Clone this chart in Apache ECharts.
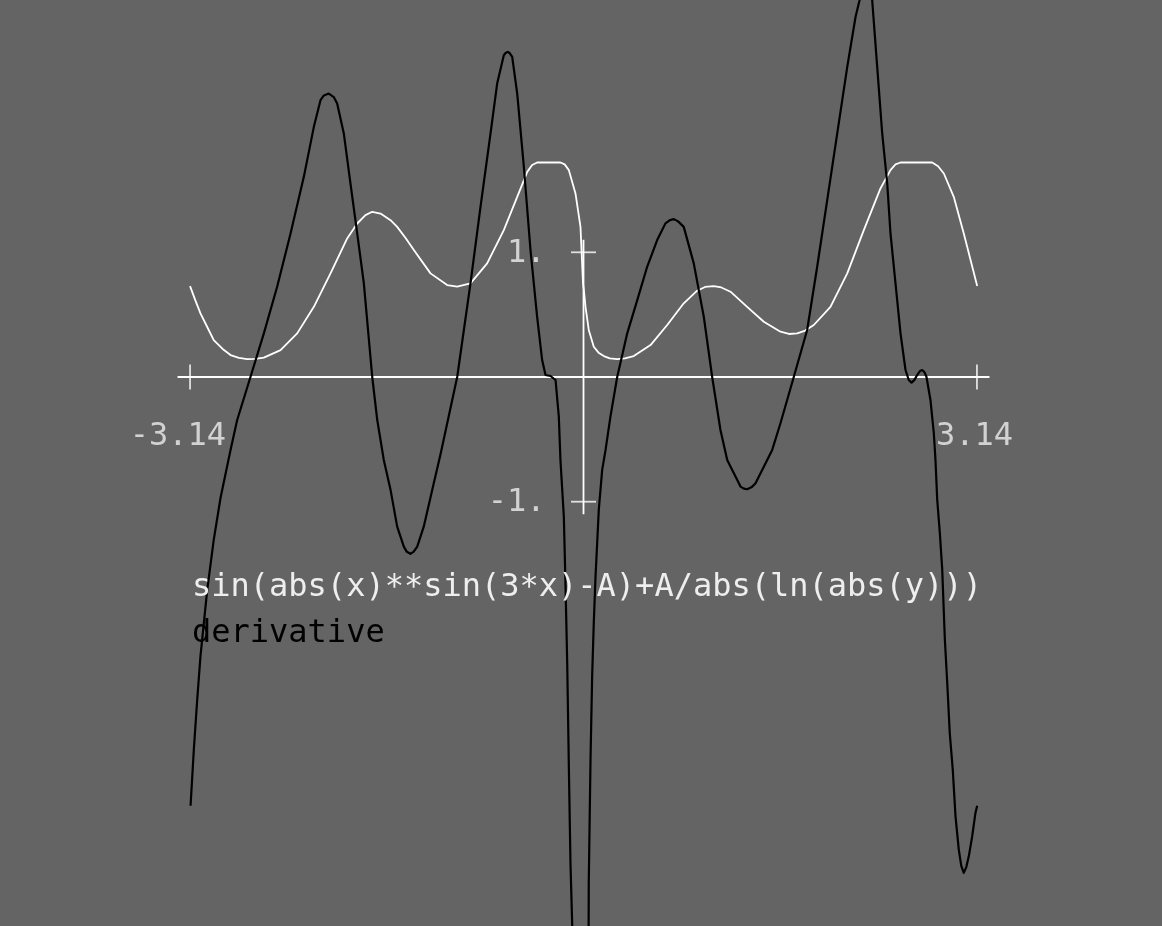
<!DOCTYPE html>
<html>
<head>
<meta charset="utf-8">
<script src="https://cdn.jsdelivr.net/npm/echarts@6/dist/echarts.min.js"></script>
<style>
html, body { margin: 0; padding: 0; background: #646464; }
#chart { width: 1162px; height: 926px; }
</style>
</head>
<body>
<div id="chart"></div>
<script>
// ---- data ----
const functionName = 'sin(abs(x)**sin(3*x)-A)+A/abs(ln(abs(y)))';
const derivativeName = 'derivative';

const fX = [-3.14, -3.10, -3.057, -3.00, -2.951, -2.88, -2.817, -2.75, -2.684, -2.62, -2.551, -2.418, -2.285, -2.152, -2.019,
  -1.886, -1.806, -1.74, -1.686, -1.620, -1.540, -1.487, -1.42, -1.354, -1.221, -1.088, -1.008,
  -0.902, -0.769, -0.636, -0.529, -0.449, -0.41, -0.370, -0.184, -0.15, -0.117, -0.064, -0.024,
  -0.004, 0.003, 0.016, 0.042, 0.082, 0.12, 0.162, 0.21, 0.269, 0.33, 0.401, 0.535, 0.668,
  0.800, 0.907, 0.97, 1.040, 1.10, 1.173, 1.306, 1.439, 1.572, 1.64, 1.705, 1.77, 1.838, 1.971,
  2.105, 2.237, 2.370, 2.450, 2.49, 2.530, 2.783, 2.83, 2.876, 2.955, 3.035, 3.142];
const fY = [0.729, 0.62, 0.51, 0.395, 0.296, 0.225, 0.176, 0.153, 0.144, 0.146, 0.155, 0.216, 0.35, 0.563, 0.831,
  1.111, 1.231, 1.298, 1.325, 1.311, 1.258, 1.204, 1.115, 1.018, 0.831, 0.737, 0.724,
  0.751, 0.911, 1.178, 1.445, 1.645, 1.700, 1.720, 1.720, 1.705, 1.659, 1.472, 1.204,
  0.75, 0.697, 0.563, 0.377, 0.243, 0.195, 0.168, 0.150, 0.144, 0.150, 0.168, 0.256, 0.417,
  0.591, 0.692, 0.722, 0.729, 0.718, 0.684, 0.563, 0.443, 0.363, 0.345, 0.350, 0.372, 0.417, 0.563,
  0.831, 1.178, 1.512, 1.659, 1.705, 1.720, 1.720, 1.690, 1.632, 1.445, 1.151, 0.729];

const dX = [-3.136, -3.110, -3.083, -3.057, -3.030, -3.003, -2.951, -2.897, -2.817, -2.764,
  -2.658, -2.551, -2.445, -2.338, -2.232, -2.152, -2.099, -2.072, -2.033, -1.993, -1.966, -1.913,
  -1.860, -1.806, -1.753, -1.686, -1.646, -1.594, -1.540, -1.487, -1.434, -1.41, -1.381, -1.355,
  -1.327, -1.275, -1.195, -1.141, -1.008, -0.902, -0.822, -0.742, -0.689, -0.636, -0.620,
  -0.604, -0.588, -0.569, -0.529, -0.476, -0.423, -0.370, -0.330, -0.303, -0.263, -0.223,
  -0.197, -0.184, -0.157, -0.144, -0.130, -0.117, -0.104, -0.090, -0.060, 0.030,
  0.042, 0.056, 0.069, 0.082, 0.096, 0.109, 0.122, 0.149, 0.176, 0.215,
  0.269, 0.349, 0.429, 0.508, 0.588, 0.654, 0.690, 0.721, 0.755, 0.800, 0.880, 0.960,
  1.027, 1.093, 1.147, 1.200, 1.253, 1.280, 1.306, 1.340, 1.373, 1.439, 1.506, 1.572,
  1.678, 1.785, 1.865, 1.945, 2.025, 2.105, 2.171, 2.203, 2.255, 2.304,
  2.344, 2.384, 2.424, 2.450, 2.490, 2.530, 2.570, 2.596, 2.618, 2.640, 2.663,
  2.685, 2.703, 2.720, 2.737, 2.769, 2.796, 2.809, 2.823, 2.844, 2.863, 2.884, 2.903,
  2.923, 2.947, 2.969, 2.995, 3.015, 3.035, 3.055, 3.075, 3.102, 3.128, 3.142];
const dY = [-3.438, -2.989, -2.588, -2.241, -1.974, -1.707, -1.306, -0.970, -0.585, -0.345,
  0.0, 0.350, 0.724, 1.151, 1.605, 2.006, 2.220, 2.258, 2.273, 2.245, 2.193, 1.953,
  1.552, 1.151, 0.751, 0.0, -0.345, -0.665, -0.905, -1.2, -1.36, -1.402, -1.418, -1.400,
  -1.36, -1.2, -0.852, -0.62, 0.0, 0.751, 1.365, 1.953, 2.353, 2.580, 2.600,
  2.607, 2.596, 2.567, 2.273, 1.685, 1.018, 0.483, 0.136, 0.016, 0.008, -0.024,
  -0.318, -0.665, -1.119, -1.653, -2.294, -3.122, -3.897, -4.399, -8, -8,
  -4.057, -3.069, -2.401, -1.974, -1.600, -1.333, -1.066, -0.745, -0.585, -0.318,
  0.0, 0.350, 0.617, 0.884, 1.098, 1.232, 1.258, 1.266, 1.248, 1.204, 0.911, 0.483,
  0.0, -0.425, -0.665, -0.772, -0.879, -0.895, -0.900, -0.885, -0.852, -0.719, -0.585, -0.371,
  0.0, 0.377, 0.884, 1.418, 1.953, 2.487, 2.887, 3.021, 3.35, 3.021,
  2.487, 1.953, 1.552, 1.151, 0.751, 0.350, 0.056, -0.024, -0.045, -0.025, 0.016,
  0.048, 0.056, 0.040, 0.002, -0.184, -0.451, -0.665, -0.986, -1.252, -1.546, -2.107, -2.454,
  -2.855, -3.149, -3.523, -3.790, -3.920, -3.977, -3.930, -3.844, -3.684, -3.496, -3.438];

const xTicks = [-3.14, 3.14];
const xTickLabels = ['-3.14', '3.14'];
const yTicks = [1, -1];
const yTickLabels = ['1.', '-1.'];

// ---- layout (pixels) ----
const W = 1162, H = 926;
const ORIGIN_X = 583.5, ORIGIN_Y = 377;
const PX_X = 125.3, PX_Y = 124.7;
const TICK_HALF = 12.5;
const FONT = '"DejaVu Sans Mono", "Liberation Mono", monospace';

const tx = TICK_HALF / PX_X, ty = TICK_HALF / PX_Y;
const zip = (a, b) => a.map((v, i) => [v, b[i]]);

const chart = echarts.init(document.getElementById('chart'));
chart.setOption({
  backgroundColor: '#646464',
  animation: false,
  grid: { left: 0, top: 0, width: W, height: H, outerBoundsMode: 'none', containLabel: false },
  xAxis: { type: 'value', show: false, min: -ORIGIN_X / PX_X, max: (W - ORIGIN_X) / PX_X },
  yAxis: { type: 'value', show: false, min: -(H - ORIGIN_Y) / PX_Y, max: ORIGIN_Y / PX_Y },
  legend: {
    orient: 'vertical', left: 187, top: 565, padding: 0, itemGap: 0,
    itemWidth: 0, itemHeight: 0, icon: 'none', selectedMode: false,
    textStyle: { fontFamily: FONT, fontSize: 32, lineHeight: 46 },
    data: [
      { name: functionName, textStyle: { color: '#eeeeee' } },
      { name: derivativeName, textStyle: { color: '#000000' } }
    ]
  },
  series: [
    {
      name: 'x axis', type: 'line', z: 1, silent: true, showSymbol: false,
      data: [[xTicks[0] - tx, 0], [xTicks[xTicks.length - 1] + tx, 0]],
      lineStyle: { color: '#ffffff', width: 1.8 }
    },
    {
      name: 'y axis', type: 'line', z: 1, silent: true, showSymbol: false,
      data: [[0, Math.min(...yTicks) - ty], [0, Math.max(...yTicks) + ty]],
      lineStyle: { color: '#ffffff', width: 1.8 }
    },
    {
      name: 'x ticks', type: 'scatter', z: 1, silent: true,
      data: xTicks.map(v => [v, 0]),
      symbol: 'rect', symbolSize: [1.8, TICK_HALF * 2],
      itemStyle: { color: '#ffffff' },
      label: {
        show: true, position: 'inside', align: 'right', verticalAlign: 'middle',
        offset: [36, 60], color: '#eeeeee', fontFamily: FONT, fontSize: 32,
        formatter: p => xTickLabels[p.dataIndex]
      }
    },
    {
      name: 'y ticks', type: 'scatter', z: 1, silent: true,
      data: yTicks.map(v => [0, v]),
      symbol: 'rect', symbolSize: [TICK_HALF * 2, 1.8],
      itemStyle: { color: '#ffffff' },
      label: {
        show: true, position: 'inside', align: 'right', verticalAlign: 'middle',
        offset: [-38, 1], color: '#eeeeee', fontFamily: FONT, fontSize: 32,
        formatter: p => yTickLabels[p.dataIndex]
      }
    },
    {
      name: functionName, type: 'line', z: 2, showSymbol: false, smooth: false, clip: true,
      data: zip(fX, fY),
      itemStyle: { color: '#ffffff' },
      lineStyle: { color: '#ffffff', width: 1.8, join: 'round' }
    },
    {
      name: derivativeName, type: 'line', z: 3, showSymbol: false, smooth: false, clip: true,
      data: zip(dX, dY),
      itemStyle: { color: '#000000' },
      lineStyle: { color: '#000000', width: 2.2, join: 'round' }
    }
  ]
});
</script>
</body>
</html>
